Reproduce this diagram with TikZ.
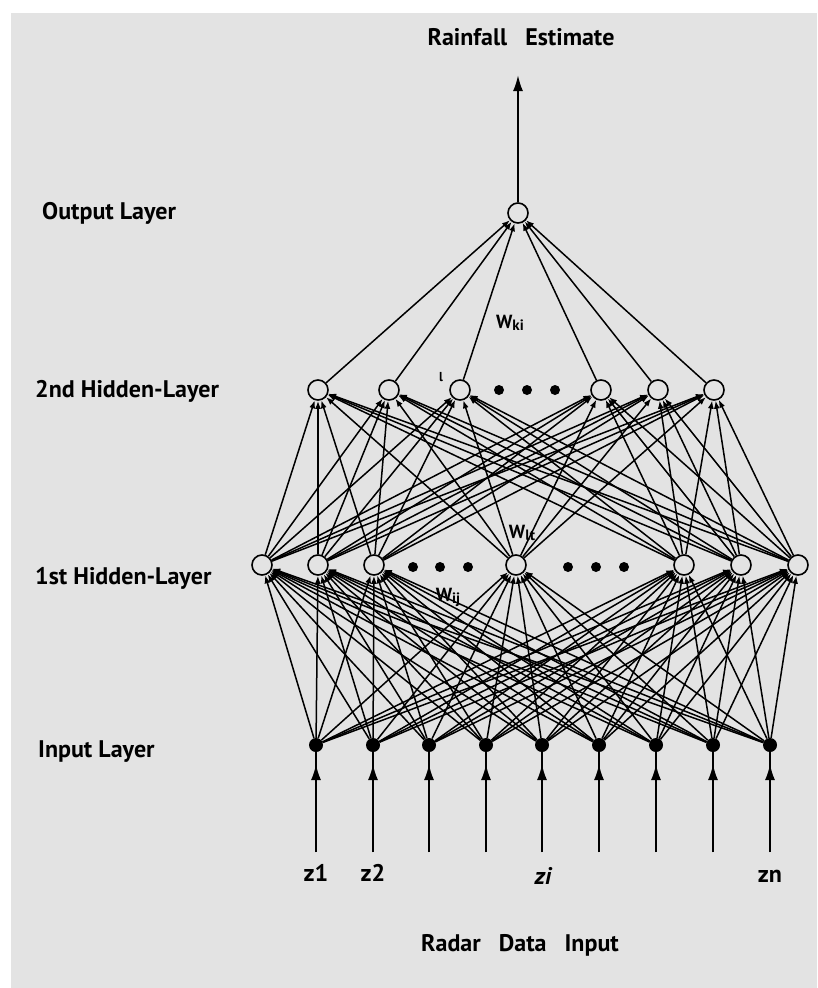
\documentclass[tikz,border=0pt]{standalone}
\usepackage{fontspec}
\setmainfont{PT Sans}
\usetikzlibrary{arrows.meta}
\definecolor{bg}{HTML}{E3E3E3}
\begin{document}
\begin{tikzpicture}[x=1pt,y=-1pt,
  hid/.style={circle,draw,line width=1.6pt,fill=bg,minimum size=20pt,inner sep=0pt},
  inp/.style={circle,fill=black,minimum size=14pt,inner sep=0pt},
  dotn/.style={circle,fill=black,minimum size=10pt,inner sep=0pt},
  conn/.style={line width=1.5pt,-{Latex[length=8pt,width=6pt]}},
  bigarrow/.style={line width=2pt,-{Latex[length=16pt,width=10pt]}},
  lbl/.style={font=\bfseries\fontsize{24}{28}\selectfont,inner sep=0pt},
  wlbl/.style={font=\bfseries\fontsize{19}{22}\selectfont,inner sep=0pt}]
\useasboundingbox (0,0) rectangle (817,988);
\fill[white] (0,0) rectangle (817,988);
\fill[bg] (11,13) rectangle (817,988);
% output
\node[hid] (o) at (518,213) {};
% 2nd hidden
\foreach \x [count=\k] in {318,389,460,601,658,714}
  \node[hid] (b\k) at (\x,390) {};
\foreach \x [count=\k] in {499,527,555}
  \node[dotn] (bd\k) at (\x,390) {};
% 1st hidden
\foreach \x [count=\k] in {262,318,374,516,684,741,798}
  \node[hid] (a\k) at (\x,565) {};
\foreach \x [count=\k] in {413,440,468,568,596,624}
  \node[dotn] (ad\k) at (\x,567) {};
% input
\foreach \x [count=\k] in {316,373,429,486,542,599,656,713,770} {
  \node[inp] (i\k) at (\x,745) {};
  \coordinate (zb\k) at (\x,852);
  \coordinate (zt\k) at (\x,764);
}
% connections
\foreach \i in {1,...,9}
  \foreach \j in {1,...,7}
    \draw[conn] (i\i) -- (a\j);
\foreach \i in {1,...,7}
  \foreach \j in {1,...,6}
    \draw[conn] (a\i) -- (b\j);
\foreach \j in {1,...,6}
  \draw[conn] (b\j) -- (o);
% input arrows
\foreach \k in {1,...,9} {
  \draw[line width=2pt] (zb\k) -- (i\k);
  \draw[bigarrow] (zb\k) -- (zt\k);
}
% output arrow
\coordinate (otop) at (518,75);
\draw[bigarrow] (o) -- (otop);
% labels
\node[lbl] (t1) at (521,37) {Rainfall\enspace\ Estimate};
\node[lbl] (t2) at (520,945) {Radar\enspace\ Data\enspace\ Input};
\node[lbl,anchor=west] (l1) at (42,213) {Output Layer};
\node[lbl,anchor=west] (l2) at (35,391) {2nd Hidden-Layer};
\node[lbl,anchor=west] (l3) at (35,578) {1st Hidden-Layer};
\node[lbl,anchor=west] (l4) at (38,752) {Input Layer};
\node[lbl] (z1) at (316,873) {z1};
\node[lbl] (z2) at (373,873) {z2};
\node[lbl] (zi) at (543,876) {\itshape zi};
\node[lbl] (zn) at (770,876) {zn};
\node[wlbl] (wk) at (510,323) {W\raisebox{-0.2ex}{\fontsize{15}{17}\selectfont ki}};
\node[wlbl] (wl) at (522,533) {W\raisebox{-0.2ex}{\fontsize{15}{17}\selectfont lt}};
\node[wlbl] (wi) at (448,597) {W\raisebox{-0.2ex}{\fontsize{15}{17}\selectfont ij}};
\node[wlbl] (ll) at (441,377) {\fontsize{13}{15}\selectfont l};
\end{tikzpicture}
\end{document}
